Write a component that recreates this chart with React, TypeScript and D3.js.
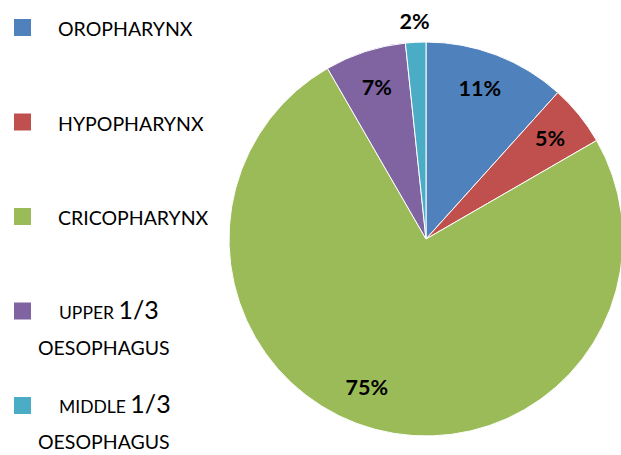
import { useEffect, useRef } from "react";
import * as d3 from "d3";

const categories = ["OROPHARYNX", "HYPOPHARYNX", "CRICOPHARYNX", "UPPER 1/3 OESOPHAGUS", "MIDDLE 1/3 OESOPHAGUS"];
const counts = [7, 3, 45, 4, 1];
const pctLabels = ["11%", "5%", "75%", "7%", "2%"];
const colors = ["#4F81BD", "#C0504D", "#9BBB59", "#8064A2", "#4BACC6"];

export default function App() {
	const ref = useRef<SVGSVGElement>(null);

	useEffect(() => {
		const svg = d3.select(ref.current);
		svg.selectAll("*").remove();

		const font = "Lato, 'Liberation Sans', sans-serif";
		const cx = 426;
		const cy = 239;
		const r = 197;

		const pie = d3.pie<number>().sort(null).value(d => d);
		const arcs = pie(counts);

		const arc = d3.arc<d3.PieArcDatum<number>>().innerRadius(0).outerRadius(r);

		const g = svg.append("g").attr("transform", `translate(${cx},${cy})`);

		g.selectAll("path.slice")
			.data(arcs)
			.enter()
			.append("path")
			.attr("class", "slice")
			.attr("d", arc)
			.attr("fill", (_, i) => colors[i])
			.attr("stroke", "#fff")
			.attr("stroke-width", 1);

		// label placement: inside at ~0.81r, tiny slice goes outside
		const labelAt = [0.47, 0.5, 0.525, 0.5, 0.5];
		arcs.forEach((a, i) => {
			const ang = a.startAngle + (a.endAngle - a.startAngle) * labelAt[i];
			const rr = i === 4 ? r + 21 : r * 0.81;
			g.append("text")
				.attr("x", Math.sin(ang) * rr)
				.attr("y", -Math.cos(ang) * rr)
				.attr("dy", "0.35em")
				.attr("text-anchor", "middle")
				.attr("font-family", font)
				.attr("font-weight", "bold")
				.attr("font-size", "21.5px")
				.attr("fill", "#000")
				.text(pctLabels[i]);
		});

		// Legend
		const legend = svg.append("g");
		const ly = d3.scaleLinear().domain([0, 4]).range([19, 397]);

		categories.forEach((name, i) => {
			const row = legend.append("g").attr("transform", `translate(14,${ly(i)})`);
			row.append("rect")
				.attr("width", 17)
				.attr("height", 17)
				.attr("fill", colors[i]);

			const parts = name.split(" 1/3 ");
			if (parts.length === 1) {
				row.append("text")
					.attr("x", 44)
					.attr("y", 17)
					.attr("font-family", font)
					.attr("font-size", "19.5px")
					.attr("fill", "#000")
					.text(name);
			} else {
				const t = row.append("text")
					.attr("x", 45)
					.attr("y", 16)
					.attr("font-family", font)
					.attr("fill", "#000");
				t.append("tspan").attr("font-size", "17.5px").text(parts[0] + " ");
				t.append("tspan").attr("font-size", "25px").text("1/3");
				row.append("text")
					.attr("x", 24)
					.attr("y", 52)
					.attr("font-family", font)
					.attr("font-size", "19.5px")
					.attr("fill", "#000")
					.text(parts[1]);
			}
		});
	}, []);

	return (
		<svg
			ref={ref}
			width={621}
			height={455}
			style={{ position: "absolute", left: 0, top: 0, background: "#fff" }}
		/>
	);
}
